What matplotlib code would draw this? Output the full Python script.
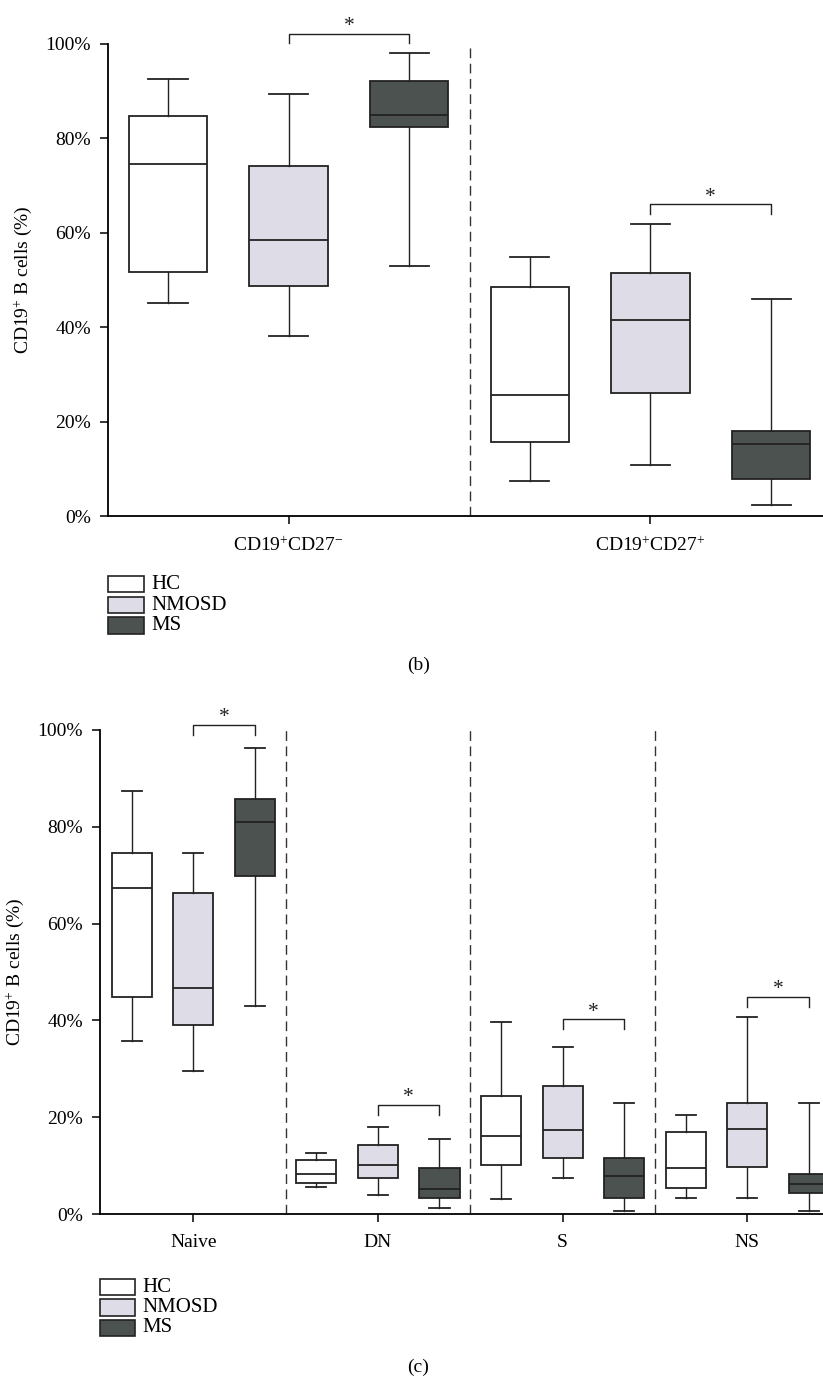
import numpy as np
import matplotlib
matplotlib.use("Agg")
import matplotlib.pyplot as plt
from matplotlib.patches import Rectangle

plt.rcParams['font.family'] = ['Liberation Serif', 'DejaVu Serif']
plt.rcParams['mathtext.fontset'] = 'custom'
plt.rcParams['mathtext.rm'] = 'Liberation Serif'
plt.rcParams['mathtext.it'] = 'Liberation Serif:italic'

# box stats per group: [whisker low, Q1, median, Q3, whisker high]
series = ["HC", "NMOSD", "MS"]
colors = ["#ffffff", "#dedde7", "#4c5250"]

groups_b = ["CD19$^{+}$CD27$^{-}$", "CD19$^{+}$CD27$^{+}$"]
hc_b = [[45.2, 51.7, 74.5, 84.8, 92.6], [7.5, 15.8, 25.6, 48.5, 54.8]]
nmosd_b = [[38.2, 48.8, 58.4, 74.1, 89.3], [10.9, 26.2, 41.5, 51.6, 61.9]]
ms_b = [[53.0, 82.3, 84.9, 92.2, 98.0], [2.5, 7.9, 15.4, 18.1, 46.0]]
sig_b = [102.1, 66.0]   # bracket height (NMOSD vs MS) per group

groups_c = ["Naive", "DN", "S", "NS"]
hc_c = [[35.7, 44.8, 67.4, 74.5, 87.3], [5.7, 6.4, 8.2, 11.2, 12.6],
        [3.1, 10.2, 16.1, 24.4, 39.7], [3.4, 5.5, 9.5, 16.9, 20.4]]
nmosd_c = [[29.5, 39.1, 46.7, 66.3, 74.5], [3.9, 7.4, 10.2, 14.3, 18.1],
           [7.4, 11.6, 17.3, 26.5, 34.6], [3.4, 9.7, 17.6, 22.9, 40.7]]
ms_c = [[43.0, 69.9, 80.9, 85.6, 96.3], [1.2, 3.3, 5.1, 9.6, 15.6],
        [0.75, 3.3, 7.9, 11.7, 22.9], [0.75, 4.4, 6.2, 8.2, 22.9]]
sig_c = [101.0, 22.5, 40.2, 44.8]

W, H = 823, 1378
fig = plt.figure(figsize=(W / 100, H / 100), dpi=100)
ec = "#222222"


def fx(x):
    return x / W


def fy(y):
    return 1 - y / H


def panel(rect, groups, data, sig, xlim, ylab_x):
    ax = fig.add_axes(rect)
    n = len(groups)
    for k, vals in enumerate(data):
        stats = []
        for v in vals:
            stats.append(dict(whislo=v[0], q1=v[1], med=v[2], q3=v[3],
                              whishi=v[4], fliers=[]))
        pos = np.arange(n) * 3 + k
        ax.bxp(stats, positions=pos, widths=0.65, patch_artist=True,
               showfliers=False,
               boxprops=dict(facecolor=colors[k], edgecolor=ec, linewidth=1.3),
               medianprops=dict(color=ec, linewidth=1.3),
               whiskerprops=dict(color=ec, linewidth=1.0),
               capprops=dict(color=ec, linewidth=1.3))
    for g in range(n - 1):
        ax.axvline(g * 3 + 2.5, color="#333333", lw=1.0, ls=(0, (7, 4)))
    for g, h in enumerate(sig):
        x1, x2 = g * 3 + 1, g * 3 + 2
        ax.plot([x1, x1, x2, x2], [h - 2, h, h, h - 2], color=ec, lw=1.0,
                clip_on=False)
        ax.annotate("*", ((x1 + x2) / 2, h), xytext=(0, 2),
                    textcoords="offset points", ha="center", va="baseline",
                    fontsize=15.5, color=ec, annotation_clip=False)
    ax.set_xlim(*xlim)
    ax.set_ylim(0, 100)
    ax.set_xticks(np.arange(n) * 3 + 1)
    ax.set_xticklabels(groups, fontsize=14)
    ax.set_yticks(np.arange(0, 101, 20))
    ax.set_yticklabels([f"{v}%" for v in range(0, 101, 20)], fontsize=14)
    ax.tick_params(axis="y", length=6, width=1.1, pad=6)
    ax.tick_params(axis="x", length=6, width=1.1, pad=8)
    for s in ["top", "right"]:
        ax.spines[s].set_visible(False)
    for s in ["left", "bottom"]:
        ax.spines[s].set_linewidth(1.3)
    ax.set_ylabel("CD19$^{+}$ B cells (%)", fontsize=14)
    ax.yaxis.set_label_coords(ylab_x, 0.5)
    return ax


def legend(x0, y0):
    for k, name in enumerate(series):
        top = y0 + k * 20.5
        fig.patches.append(Rectangle((fx(x0), fy(top + 16.5)), fx(35.5), 16.5 / H,
                                     transform=fig.transFigure,
                                     facecolor=colors[k], edgecolor=ec, lw=1.2))
        fig.text(fx(x0 + 43), fy(top + 8.5), name, fontsize=15,
                 va="center", ha="left")


# panel (b)
panel([fx(107.6), fy(516.5), fx(W - 107.6), 472.8 / H],
      groups_b, [hc_b, nmosd_b, ms_b], sig_b, (-0.5, 5.43), -0.103)
legend(108, 576)
fig.text(fx(419), fy(665), "(b)", fontsize=14, ha="center", va="center")

# panel (c)
panel([fx(99.7), fy(1214.2), fx(W - 99.7), 484.5 / H],
      groups_c, [hc_c, nmosd_c, ms_c], sig_c, (-0.52, 11.23), -0.102)
legend(99.7, 1278.5)
fig.text(fx(418), fy(1367), "(c)", fontsize=14, ha="center", va="center")

fig.savefig("out.png", dpi=100)
